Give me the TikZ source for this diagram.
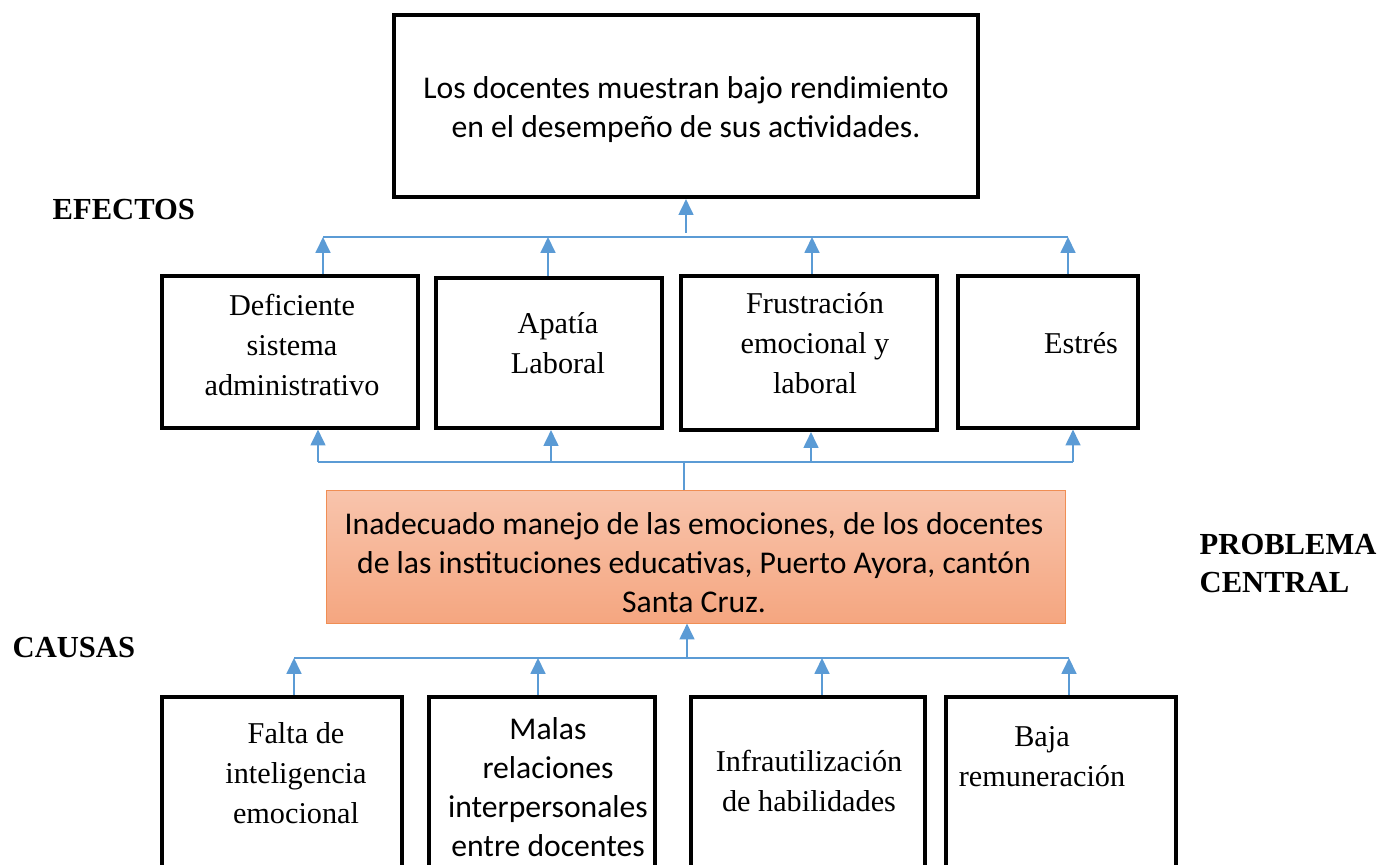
\documentclass[tikz,border=0pt]{standalone}
\usepackage{fontspec}
\setmainfont{Liberation Serif}
\newfontfamily\calib{Carlito}
\usetikzlibrary{positioning,arrows.meta}
\tikzset{>={Triangle[width=4.2pt,length=4.5pt]}}
\definecolor{linkblue}{RGB}{91,155,213}
\definecolor{probtop}{RGB}{248,196,172}
\definecolor{probbot}{RGB}{245,166,128}
\definecolor{probedge}{RGB}{240,142,84}

\begin{document}
\begin{tikzpicture}[x=0.01cm,y=-0.01cm,
  box/.style={draw,line width=0.04cm,inner sep=0pt},
  link/.style={draw=linkblue,line width=0.02cm},
  serif/.style={font=\fontsize{8.6}{11.3}\selectfont,align=center},
  sans/.style={font=\calib\fontsize{9}{11.1}\selectfont,align=center},
  tag/.style={font=\bfseries\fontsize{8.7}{10.8}\selectfont,align=left,anchor=west,inner sep=0pt}]

\useasboundingbox (0,0) rectangle (1400,865);
\clip (0,0) rectangle (1400,865);

% Top box (main effect)
\node[box,minimum width=5.83cm,minimum height=1.82cm] (top) at (686,106) {};
\node[sans] (toptext) at (686,110)
   {Los docentes muestran bajo rendimiento\\en el desempeño de sus actividades.};

% Effect boxes
\node[box,minimum width=2.56cm,minimum height=1.51cm] (eff1) at (290,352) {};
\node[box,minimum width=2.26cm,minimum height=1.50cm] (eff2) at (549,353) {};
\node[box,minimum width=2.56cm,minimum height=1.54cm] (eff3) at (809,353) {};
\node[box,minimum width=1.80cm,minimum height=1.51cm] (eff4) at (1048,352) {};
\node[serif] (efftext1) at (292,345) {Deficiente\\sistema\\administrativo};
\node[serif] (efftext2) at (558,343) {Apatía\\Laboral};
\node[serif] (efftext3) at (815,343) {Frustración\\emocional y\\laboral};
\node[serif] (efftext4) at (1081,343) {Estrés};

% Central problem
\node[draw=probedge,line width=0.01cm,top color=probtop,bottom color=probbot,
   minimum width=7.38cm,minimum height=1.32cm] (prob) at (696,557) {};
\node[sans] (probtext) at (694,563)
   {Inadecuado manejo de las emociones, de los docentes\\de las instituciones educativas, Puerto Ayora, cantón\\Santa Cruz.};

% Cause boxes (cut at the bottom)
\node[box,minimum width=2.40cm,minimum height=2.08cm] (cau1) at (282,801) {};
\node[box,minimum width=2.25cm,minimum height=2.08cm] (cau2) at (542,801) {};
\node[box,minimum width=2.33cm,minimum height=2.08cm] (cau3) at (808,801) {};
\node[box,minimum width=2.29cm,minimum height=2.08cm] (cau4) at (1061,801) {};
\node[serif] (cautext1) at (296,773) {Falta de\\inteligencia\\emocional};
\node[sans] (cautext2) at (548,787) {Malas\\relaciones\\interpersonales\\entre docentes};
\node[serif] (cautext3) at (809,781) {Infrautilización\\de habilidades};
\node[serif] (cautext4) at (1042,757) {Baja\\remuneración};

% Side labels
\node[tag] (efectos) at (52,210) {EFECTOS};
\node[tag] (central) at (1199,564) {PROBLEMA\\CENTRAL};
\node[tag] (causas) at (12,648) {CAUSAS};

% Effects -> top box
\coordinate (up1) at (323,237);
\coordinate (up2) at (548,237);
\coordinate (up3) at (812,237);
\coordinate (up4) at (1068,237);
\coordinate (upmid) at (686,233);
\draw[link] (up1) -- (up4);
\draw[link,->] (upmid) -- (top.south);
\draw[link,->] (up1 |- eff1.north) -- (up1);
\draw[link,->] (up2 |- eff2.north) -- (up2);
\draw[link,->] (up3 |- eff3.north) -- (up3);
\draw[link,->] (up4 |- eff4.north) -- (up4);

% Problem -> effects
\coordinate (dn1) at (318,462);
\coordinate (dn2) at (551,462);
\coordinate (dn3) at (811,462);
\coordinate (dn4) at (1073,462);
\coordinate (dnmid) at (684,462);
\draw[link] (dn1) -- (dn4);
\draw[link] (dnmid |- prob.north) -- (dnmid);
\draw[link,->] (dn1) -- (dn1 |- eff1.south);
\draw[link,->] (dn2) -- (dn2 |- eff2.south);
\draw[link,->] (dn3) -- (dn3 |- eff3.south);
\draw[link,->] (dn4) -- (dn4 |- eff4.south);

% Causes -> problem
\coordinate (cs1) at (294,658);
\coordinate (cs2) at (538,658);
\coordinate (cs3) at (822,658);
\coordinate (cs4) at (1069,658);
\coordinate (csmid) at (687,658);
\draw[link] (cs1) -- (cs4);
\draw[link,->] (csmid) -- (csmid |- prob.south);
\draw[link,->] (cs1 |- cau1.north) -- (cs1);
\draw[link,->] (cs2 |- cau2.north) -- (cs2);
\draw[link,->] (cs3 |- cau3.north) -- (cs3);
\draw[link,->] (cs4 |- cau4.north) -- (cs4);
\end{tikzpicture}
\end{document}
